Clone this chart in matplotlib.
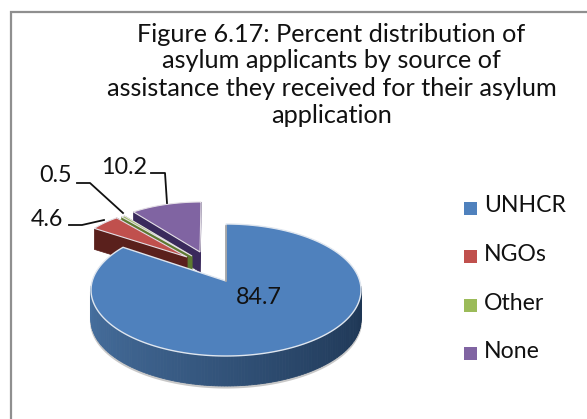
import numpy as np
import matplotlib
matplotlib.use("Agg")
import matplotlib.pyplot as plt
from matplotlib.patches import Polygon, Rectangle
from matplotlib.colors import to_rgb

categories = ["UNHCR", "NGOs", "Other", "None"]
values = [84.7, 4.6, 0.5, 10.2]
title_lines = ["Figure 6.17: Percent distribution of", "asylum applicants by source of",
               "assistance they received for their asylum", "application"]

top_colors = ["#4f81bd", "#c0504d", "#9bbb59", "#8064a2"]
side_colors = ["#2f5078", "#5a201c", "#5d7a30", "#3a2a5c"]
apex = [(226, 281), (187, 257), (192, 256), (200, 252)]
ell_c = [(226, 290), (187, 257), (192, 256), (201, 252)]
semi = [(135, 66), (113, 50), (113, 50), (113, 50)]
depth = [30, 21, 21, 20]
warp = [-0.1, 0, 0, 0]   # perspective distortion of the near slice's angles
FONT = "Lato"

fig = plt.figure(figsize=(5.87, 4.19), dpi=100)
ax = fig.add_axes([0, 0, 1, 1])
ax.set_xlim(0, 587); ax.set_ylim(419, 0); ax.axis("off")
ax.plot([11, 11, 587], [419, 12, 12], color="#8f8f8f", lw=1.6, solid_joinstyle="miter")

angles = np.cumsum([0] + values) / 100 * 2 * np.pi

def rim(i, t):
    cx, cy = ell_c[i]; a, b = semi[i]
    u = t + warp[i] * np.sin(2 * t)
    return np.c_[cx + a * np.sin(u), cy - b * np.cos(u)]

def lerp(c1, c2, f):
    c1, c2 = np.array(to_rgb(c1)), np.array(to_rgb(c2))
    return tuple(c1 + (c2 - c1) * f)

for i in [3, 2, 1, 0]:
    t = np.linspace(angles[i], angles[i + 1], 200)
    arc = rim(i, t)
    d = np.array([0, depth[i]])
    ap = np.array(apex[i], float)
    if i == 0:
        front = t[(t > np.pi * 0.5) & (t < np.pi * 1.5)]
        fa = rim(0, front) + d + np.array([0, 1.5])
        ax.add_patch(Polygon(np.r_[fa, fa[::-1] - d], fc="#c8c8c8", ec="#c8c8c8", lw=1.5, zorder=1))
        for j in range(len(t) - 1):
            if np.cos(t[j]) < 0.05:
                col = lerp("#47709f", "#1d3553", np.clip(1 - (t[j] - np.pi / 2) / np.pi, 0, 1))
                seg = arc[j:j + 2]
                ax.add_patch(Polygon(np.r_[seg, seg[::-1] + d], fc=col, ec=col, lw=0.6, zorder=2))
        ax.add_patch(Polygon(np.r_[[ap], arc], fc=top_colors[0], ec="#dfe6ef", lw=1.0, zorder=3))
    else:
        z = 2 + (3 - i) * 0.1
        for edge in ([ap, arc[0]], [ap, arc[-1]]):
            ax.add_patch(Polygon(np.r_[edge, np.array(edge)[::-1] + d], fc=side_colors[i], ec=side_colors[i], lw=0.5, zorder=z))
        ax.add_patch(Polygon(np.r_[[ap], arc], fc=top_colors[i], ec="#e4dfe6", lw=0.8, zorder=z + 0.01))

ax.plot([226, 226], [226, 281], color="#a0a0a0", lw=1.2, zorder=4)

def t_(x, y, s, **k):
    ax.text(x, y, s, family=FONT, color="#111111", zorder=6, **k)

for y, line in zip([35, 60, 88, 115], title_lines):
    t_(331.5, y, line, fontsize=18.2, ha="center", va="center")

for s, x, y in [("84.7", 259, 297), ("10.2", 124, 167), ("0.5", 56, 175), ("4.6", 47, 219)]:
    t_(x, y, s, fontsize=16.8, ha="center", va="center")

leaders = [([151, 165, 167], [173, 173, 203]), ([77, 90, 123], [183, 183, 213]), ([69, 82, 104], [225, 225, 220])]
for xs, ys in leaders:
    ax.plot(xs, ys, color="#111111", lw=1.3, zorder=6)

for name, c, ty, my in zip(categories, top_colors, [205, 254, 303, 351], [208, 256, 305, 353]):
    ax.add_patch(Rectangle((463.5, my - 6.5), 13, 13, fc=c, ec="none"))
    t_(484, ty, name, fontsize=16.6, ha="left", va="center")

fig.savefig("out.png", dpi=100)
